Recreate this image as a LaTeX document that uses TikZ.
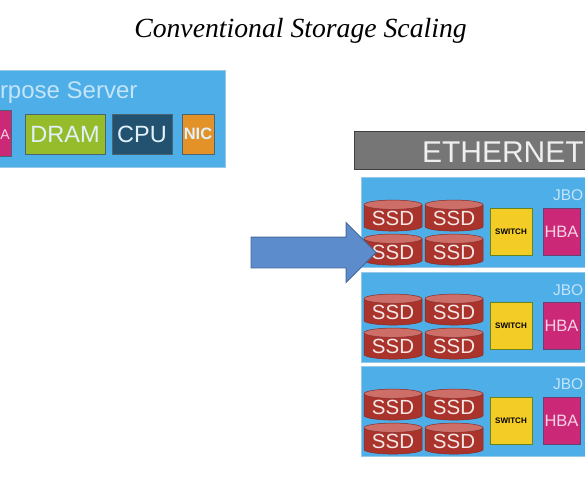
\documentclass[tikz,border=0pt]{standalone}
\usepackage{xcolor}
\usepackage{fontspec}
\setmainfont{Liberation Sans}
\newfontfamily\titlefont{Liberation Serif}
\usetikzlibrary{shapes.geometric, shapes.arrows, positioning}
\definecolor{boxblue}{RGB}{78, 174, 232}
\definecolor{edgeblue}{RGB}{150, 200, 232}
\definecolor{labelblue}{RGB}{196, 228, 248}
\definecolor{ssdred}{RGB}{170, 52, 44}
\definecolor{ssdtop}{RGB}{205, 110, 105}
\definecolor{hbapink}{RGB}{204, 40, 120}
\definecolor{dramgreen}{RGB}{150, 188, 44}
\definecolor{cpunavy}{RGB}{34, 82, 112}
\definecolor{nicorange}{RGB}{226, 146, 38}
\definecolor{switchyellow}{RGB}{244, 204, 38}
\definecolor{ethgrey}{RGB}{118, 118, 118}
\definecolor{arrowblue}{RGB}{92, 140, 204}

\begin{document}
\begin{tikzpicture}[x=1pt, y=1pt, node distance=3pt, every node/.style={inner sep=0pt, outer sep=0pt}]
    % Styles
    \tikzstyle{jbod} = [rectangle, draw=edgeblue, line width=0.8pt, fill=boxblue, anchor=north west, minimum width=240pt, minimum height=90pt]
    \tikzstyle{chip} = [rectangle, draw=edgeblue!50!black, line width=0.8pt, text=labelblue!50!white, minimum height=40pt, font=\fontsize{23.5}{28}\selectfont]
    \tikzstyle{ssd} = [cylinder, shape border rotate=90, aspect=0.22, draw=ssdred!80!black, line width=0.5pt, cylinder uses custom fill, cylinder body fill=ssdred, cylinder end fill=ssdtop, minimum width=58pt, minimum height=31pt, text=white!88!ssdred, font=\fontsize{20.5}{24}\selectfont]
    \tikzstyle{switchbox} = [rectangle, draw=dramgreen!70!black, line width=0.8pt, fill=switchyellow, minimum width=42pt, minimum height=47pt, font=\fontsize{8}{10}\selectfont\bfseries]
    \tikzstyle{hbabox} = [rectangle, draw=cpunavy!60!hbapink, line width=0.8pt, fill=hbapink, text=white!80!hbapink, minimum width=37pt, minimum height=47pt, font=\fontsize{16.5}{20}\selectfont]
    \tikzstyle{jbodlabel} = [anchor=base west, text=labelblue, font=\fontsize{15.5}{18}\selectfont]

    \path [use as bounding box, clip] (0,0) rectangle (585,-477);

    % Title
    \node [anchor=base, font=\titlefont\itshape\fontsize{27.7}{32}\selectfont] (title) at (300.5,-37) {Conventional Storage Scaling};

    % Server
    \node [rectangle, draw=edgeblue, line width=0.8pt, fill=boxblue, anchor=north west, minimum width=255pt, minimum height=97pt] (server) at (-30,-70) {};
    \node [anchor=base west, text=labelblue, font=\fontsize{24}{28}\selectfont] (serverlabel) at (0,-98) {rpose Server};
    \node [chip, anchor=north west, fill=hbapink, minimum width=41pt, minimum height=46pt] (serverhba) at (-30,-110) {};
    \node [anchor=base west, text=white!80!hbapink, font=\fontsize{14}{17}\selectfont] (serverhbalabel) at (0.3,-139) {A};
    \node [chip, anchor=north west, fill=dramgreen, minimum width=80pt] (dram) at (25,-114) {DRAM};
    \node [chip, right=7pt of dram, fill=cpunavy, minimum width=60pt] (cpu) {CPU};
    \node [chip, right=10pt of cpu, fill=nicorange, minimum width=32pt, font=\fontsize{16.5}{20}\selectfont\bfseries] (nic) {NIC};

    % Ethernet
    \node [rectangle, draw=black!75, line width=1pt, fill=ethgrey, anchor=north west, minimum width=250pt, minimum height=38pt] (ethernet) at (354.5,-131.5) {};
    \node [anchor=base west, text=white!88!ethgrey, font=\fontsize{30}{36}\selectfont] (ethernetlabel) at (422,-162) {ETHERNET};

    % First shelf
    \node [jbod] (jboda) at (361,-177) {};
    \node [jbodlabel] (labela) at (553,-200) {JBO};
    \node [ssd] (ssdaa) at (393,-218) {SSD};
    \node [ssd, right=of ssdaa] (ssdab) {SSD};
    \node [ssd, below=of ssdaa] (ssdac) {SSD};
    \node [ssd, below=of ssdab] (ssdad) {SSD};
    \node [switchbox, anchor=north west] (switcha) at (490,-208) {SWITCH};
    \node [hbabox, right=11pt of switcha] (hbaa) {HBA};

    % Second shelf
    \node [jbod] (jbodb) at (361,-272) {};
    \node [jbodlabel] (labelb) at (553,-295) {JBO};
    \node [ssd] (ssdba) at (393,-312) {SSD};
    \node [ssd, right=of ssdba] (ssdbb) {SSD};
    \node [ssd, below=of ssdba] (ssdbc) {SSD};
    \node [ssd, below=of ssdbb] (ssdbd) {SSD};
    \node [switchbox, anchor=north west] (switchb) at (490,-302) {SWITCH};
    \node [hbabox, right=11pt of switchb] (hbab) {HBA};

    % Third shelf
    \node [jbod] (jbodc) at (361,-366) {};
    \node [jbodlabel] (labelc) at (553,-389) {JBO};
    \node [ssd] (ssdca) at (393,-407) {SSD};
    \node [ssd, right=of ssdca] (ssdcb) {SSD};
    \node [ssd, below=of ssdca] (ssdcc) {SSD};
    \node [ssd, below=of ssdcb] (ssdcd) {SSD};
    \node [switchbox, anchor=north west] (switchc) at (490,-397) {SWITCH};
    \node [hbabox, right=11pt of switchc] (hbac) {HBA};

    % Big arrow
    \node [single arrow, draw=arrowblue!75!black, line width=0.8pt, fill=arrowblue, anchor=tip, inner sep=15pt, minimum height=125pt, single arrow head extend=14.5pt, single arrow head indent=0pt] (bigarrow) at (376,-252.5) {};
\end{tikzpicture}
\end{document}
